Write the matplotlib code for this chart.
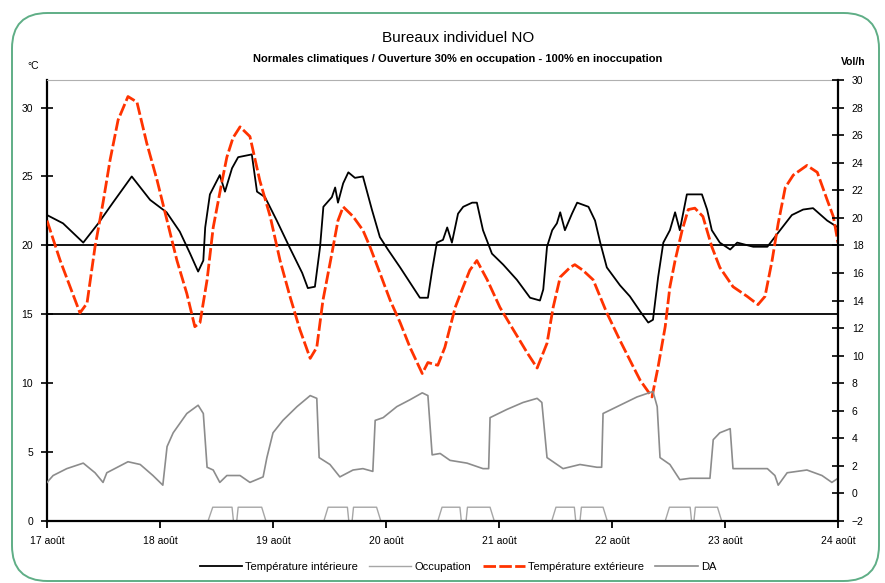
"""
Bureaux individuel NO: indoor / outdoor temperature, occupation and air flow
over one week (17-24 août), two y axes sharing the same scale.
"""

import matplotlib
matplotlib.use("Agg")
import matplotlib.pyplot as plt
from matplotlib.lines import Line2D
from matplotlib.patches import FancyBboxPatch

plt.rcParams["font.family"] = ["Liberation Sans", "DejaVu Sans"]

TITLE = "Bureaux individuel NO"
SUBTITLE = "Normales climatiques / Ouverture 30% en occupation - 100% en inoccupation"

day_labels = ["17 août", "18 août", "19 août", "20 août",
              "21 août", "22 août", "23 août", "24 août"]

# hours since 17 août 00:00
t_int_hours = [0, 3.4, 7.7, 10.9, 14, 18, 21.9, 25.4, 28.2, 30.4, 32.1, 33.2, 33.6,
               34.6, 36.7, 37.8, 39.3, 40.6, 43.5, 44.6, 46.3, 48.8, 51.6, 54.2,
               55.4, 56.9, 58, 58.7, 60.5, 61.2, 61.8, 62.9, 64, 65.4, 67.1, 69,
               70.7, 72.4, 75, 77.1, 79.2, 80.9, 81.8, 82.8, 84.1, 85, 86, 87.3,
               88.4, 90.3, 91.3, 92.6, 94.5, 96.9, 99.8, 102.6, 104.7, 105.4,
               106.2, 107.3, 108.3, 109, 110, 111.5, 112.6, 115, 116.4, 117.5,
               118.9, 121.7, 123.8, 126, 127.7, 128.7, 129.8, 130.9, 132.3, 133.4,
               134.4, 135.9, 139.1, 140.2, 141.2, 142.9, 145.1, 146.6, 150, 153,
               155.7, 158.2, 160.6, 162.7, 165.7, 168]
t_int = [22.2, 21.6, 20.2, 21.6, 23.1, 25.0, 23.3, 22.4, 21.0, 19.4, 18.1, 18.9, 21.3,
         23.7, 25.1, 23.9, 25.6, 26.4, 26.6, 23.9, 23.5, 21.8, 19.8, 18.0,
         16.9, 17.0, 19.9, 22.8, 23.5, 24.2, 23.1, 24.5, 25.3, 24.9, 25.0, 22.6,
         20.6, 19.7, 18.4, 17.3, 16.2, 16.2, 18.2, 20.2, 20.4, 21.3, 20.2, 22.3,
         22.8, 23.1, 23.1, 21.1, 19.4, 18.6, 17.5, 16.2, 16.0, 16.8,
         19.9, 21.1, 21.6, 22.4, 21.1, 22.3, 23.1, 22.8, 21.8, 20.2,
         18.4, 17.1, 16.3, 15.2, 14.4, 14.6, 17.7, 20.2, 21.1, 22.4,
         21.1, 23.7, 23.7, 22.6, 21.1, 20.2, 19.7, 20.2, 19.9, 19.9,
         21.1, 22.2, 22.6, 22.7, 21.8, 21.3]

t_ext_hours = [0, 2.8, 4.9, 7, 8.5, 10.2, 11.9, 13.4, 15.1, 17.2, 19.1, 21.2, 23.4,
               25.5, 27.6, 29.7, 31.4, 32.5, 34, 35.3, 37.2, 38.2, 39.5, 41, 43.1,
               45.2, 47.4, 49.5, 51.6, 53.7, 55.9, 57.3, 58.6, 60.5, 61.8, 62.9,
               65, 67.1, 68.6, 70.7, 72.9, 75, 77.1, 79.7, 80.9, 83, 84.5, 86.7,
               88.4, 89.8, 91.3, 93.5, 96.2, 99, 102, 104.1, 106.2, 107.5, 109,
               111.1, 112.1, 113.8, 116, 118.9, 121.7, 124.5, 126, 128.5, 129.8,
               131.3, 132.3, 133.4, 134.9, 136.2, 137.6, 139.3, 141.2, 142.9,
               145.7, 148.7, 151, 152.5, 154, 155.3, 156.8, 158.5, 161.4, 163.6,
               165.7, 167, 168]
t_ext = [21.8, 18.9, 17.0, 15.1, 15.8, 19.9, 23.1, 26.2, 29.1, 30.8, 30.4, 27.4, 24.7,
         21.8, 18.9, 16.5, 14.1, 14.4, 17.5, 21.3, 24.7, 26.4, 27.8, 28.6, 27.9,
         24.7, 22.1, 18.9, 16.3, 13.9, 11.8, 12.6, 16.0, 19.4, 21.8, 22.8,
         22.1, 21.1, 19.9, 18.0, 16.0, 14.4, 12.6, 10.7, 11.5, 11.3, 12.6, 15.5,
         17.0, 18.2, 18.9, 17.5, 15.5, 13.9, 12.2, 11.1, 12.9, 15.5, 17.7,
         18.4, 18.6, 18.2, 17.5, 15.1, 13.1, 11.2, 10.2, 9.0, 11.2,
         14.1, 17.0, 18.9, 21.1, 22.6, 22.7, 22.1, 19.9, 18.4,
         17.0, 16.3, 15.7, 16.3, 18.9, 21.6, 24.2, 25.1, 25.8, 25.3,
         23.3, 22.1, 20.2]

# occupation, 0 / 1 (left axis)
occ_hours = [0, 34.2, 35.2, 39.3, 39.6, 40.3, 40.6, 45.6, 46.5,
             58.8, 59.7, 63.8, 64.1, 64.8, 65.1, 70.0, 70.9,
             83.0, 83.9, 87.7, 88.0, 89.0, 89.3, 94.1, 95.0,
             107.2, 108.1, 112.0, 112.3, 113.2, 113.5, 118.1, 119.0,
             131.3, 132.2, 136.6, 136.9, 137.4, 137.7, 142.4, 143.3, 168]
occupation = [0, 0, 1, 1, 0, 0, 1, 1, 0,
              0, 1, 1, 0, 0, 1, 1, 0,
              0, 1, 1, 0, 0, 1, 1, 0,
              0, 1, 1, 0, 0, 1, 1, 0,
              0, 1, 1, 0, 0, 1, 1, 0, 0]

# air flow, Vol/h (right axis)
da_hours = [0, 1.3, 4.2, 7.7, 10.2, 11.9, 12.7, 17.2, 19.8, 22.5, 24.6, 25.5, 26.8,
            29.7, 32.1, 33.2, 34, 35.3, 36.7, 38.2, 41, 43.1, 45.9, 46.7, 48,
            50.1, 53.1, 55.9, 57.3, 57.8, 60.1, 62.2, 65, 67.1, 69.2, 69.7,
            71.4, 74.3, 77.1, 79.7, 80.9, 81.8, 83.5, 85.6, 89.2, 92.6, 93.8,
            94.1, 97.7, 101.1, 104.1, 105.1, 106.2, 109.6, 113.2, 116.8, 117.8,
            118.1, 121.1, 125.3, 128.7, 129.6, 130.2, 132.3, 134.4, 136.6,
            140.8, 141.5, 142.9, 145.1, 145.7, 149.3, 153, 154.6, 155.3, 157.2,
            161.4, 164.6, 166.7, 168]
da = [0.8, 1.3, 1.8, 2.2, 1.5, 0.8, 1.5, 2.3, 2.1, 1.3, 0.6, 3.4, 4.4,
      5.8, 6.4, 5.8, 1.9, 1.7, 0.8, 1.3, 1.3, 0.8, 1.2, 2.6, 4.4,
      5.3, 6.3, 7.1, 6.9, 2.6, 2.1, 1.2, 1.7, 1.8, 1.6, 5.3,
      5.5, 6.3, 6.8, 7.3, 7.1, 2.8, 2.9, 2.4, 2.2, 1.8, 1.8,
      5.5, 6.1, 6.6, 6.9, 6.6, 2.6, 1.8, 2.1, 1.9, 1.9,
      5.8, 6.3, 7.0, 7.4, 6.3, 2.6, 2.1, 1.0, 1.1,
      1.1, 3.9, 4.4, 4.7, 1.8, 1.8, 1.8, 1.3, 0.6, 1.5,
      1.7, 1.3, 0.8, 1.1]

W, H = 885, 583
fig = plt.figure(figsize=(W / 100, H / 100), dpi=100)

# rounded green frame around the whole chart
frame = FancyBboxPatch((12 / W, 2 / H), 867 / W, 568 / H,
                       boxstyle="round,pad=0,rounding_size=0.04",
                       transform=fig.transFigure, facecolor="none",
                       edgecolor="#5fae86", linewidth=1.4, mutation_aspect=W / H)
fig.patches.append(frame)

ax = fig.add_axes([47 / W, 1 - 521 / H, (838 - 47) / W, (521 - 80) / H])
ax2 = ax.twinx()

ax.axhline(20, color="black", linewidth=1.3, zorder=1)
ax.axhline(15, color="black", linewidth=1.3, zorder=1)

l_int, = ax.plot(t_int_hours, t_int, color="black", linewidth=1.3, zorder=3)
l_occ, = ax.plot(occ_hours, occupation, color="#a6a6a6", linewidth=1.0, zorder=2)
l_ext, = ax.plot(t_ext_hours, t_ext, color="#ff3300", linewidth=2.0,
                 dashes=(4.5, 1.2), zorder=4)
l_da, = ax2.plot(da_hours, da, color="#8c8c8c", linewidth=1.2)

ax.set_xlim(0, 168)
ax.set_ylim(0, 32)
ax2.set_ylim(-2, 30)

ax.set_xticks(range(0, 169, 24))
ax.set_xticklabels(day_labels)
ax.set_yticks(range(0, 31, 5))
ax2.set_yticks(range(-2, 31, 2))

ax.tick_params(axis="x", direction="out", length=5, width=1.3, labelsize=7.5, pad=6)
ax.tick_params(axis="y", direction="inout", length=8, width=1.2, labelsize=7.5, pad=6)
ax2.tick_params(axis="y", direction="inout", length=8, width=1.2, labelsize=7.5, pad=6)

for side in ("left", "bottom"):
    ax.spines[side].set_linewidth(1.6)
ax.spines["top"].set_color("#b0b0b0")
ax.spines["top"].set_linewidth(0.8)
ax.spines["right"].set_visible(False)
for side in ("left", "top", "bottom"):
    ax2.spines[side].set_visible(False)
ax2.spines["right"].set_linewidth(1.6)

fig.text(33 / W, 1 - 66 / H, "°C", fontsize=7.5, ha="center", va="center")
fig.text(853 / W, 1 - 62 / H, "Vol/h", fontsize=7.5, ha="center", va="center",
         fontweight="bold")

fig.text(458 / W, 1 - 38 / H, TITLE, fontsize=11, ha="center", va="center")
fig.text(458 / W, 1 - 59 / H, SUBTITLE, fontsize=8, ha="center", va="center",
         fontweight="bold")

handles = [
    Line2D([0], [0], color="black", linewidth=1.3),
    Line2D([0], [0], color="#a6a6a6", linewidth=1.0),
    Line2D([0], [0], color="#ff3300", linewidth=2.0, dashes=(4.5, 1.2)),
    Line2D([0], [0], color="#8c8c8c", linewidth=1.2),
]
labels = ["Température intérieure", "Occupation", "Température extérieure", "DA"]
fig.legend(handles, labels, loc="center", bbox_to_anchor=(458 / W, 1 - 567 / H),
           ncol=4, frameon=False, fontsize=8, handlelength=3.8,
           handletextpad=0.3, columnspacing=1.0)

fig.savefig("out.png", dpi=100)
